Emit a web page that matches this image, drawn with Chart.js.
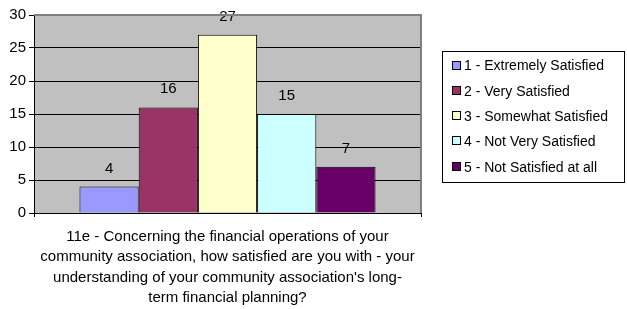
<!DOCTYPE html>
<html>
<head>
<meta charset="utf-8">
<script src="https://cdn.jsdelivr.net/npm/chart.js@4/dist/chart.umd.min.js"></script>
<style>
  html, body { margin: 0; padding: 0; background: #fff; }
  #wrap { width: 627px; height: 309px; }
</style>
</head>
<body>
<div id="wrap"><canvas id="chart" width="627" height="309"></canvas></div>
<script>
// values
var categories = [''];
var seriesLabels = [
    '1 - Extremely Satisfied',
    '2 - Very Satisfied',
    '3 - Somewhat Satisfied',
    '4 - Not Very Satisfied',
    '5 - Not Satisfied at all'
];
var seriesValues = [4, 16, 27, 15, 7];
var seriesColors = ['#9999FF', '#993366', '#FFFFCC', '#CCFFFF', '#660066'];
var yTicks = [0, 5, 10, 15, 20, 25, 30];
var axisTitle = [
    '11e - Concerning the financial operations of your',
    'community association, how satisfied are you with - your',
    "understanding of your community association's long-",
    'term financial planning?'
];

var FONT = 'Arial, "Liberation Sans", sans-serif';

// gray plot background + gray frame on top/right
var plotFrame = {
    id: 'plotFrame',
    beforeDraw: function(chart) {
        var a = chart.chartArea, ctx = chart.ctx;
        ctx.save();
        ctx.fillStyle = '#C0C0C0';
        ctx.fillRect(a.left, a.top, a.right - a.left, a.bottom - a.top);
        ctx.restore();
    },
    afterDraw: function(chart) {
        var a = chart.chartArea, ctx = chart.ctx;
        ctx.save();
        ctx.strokeStyle = '#808080';
        ctx.lineWidth = 2;
        ctx.beginPath();
        ctx.moveTo(a.left, a.top);
        ctx.lineTo(a.right, a.top);
        ctx.lineTo(a.right, a.bottom);
        ctx.stroke();
        ctx.restore();
    }
};

// value labels above bars
var valueLabels = {
    id: 'valueLabels',
    afterDatasetsDraw: function(chart) {
        var ctx = chart.ctx;
        ctx.save();
        ctx.font = '15px ' + FONT;
        ctx.fillStyle = '#000';
        ctx.textAlign = 'center';
        ctx.textBaseline = 'alphabetic';
        chart.data.datasets.forEach(function(ds, i) {
            var bar = chart.getDatasetMeta(i).data[0];
            ctx.fillText(String(ds.data[0]), bar.x, bar.y - 14);
        });
        ctx.restore();
    }
};

// boxed legend on the right
var boxLegend = {
    id: 'boxLegend',
    afterDraw: function(chart) {
        var ctx = chart.ctx;
        ctx.save();
        ctx.strokeStyle = '#000';
        ctx.lineWidth = 1;
        ctx.strokeRect(442.5, 51.5, 182, 131);
        ctx.font = '14px ' + FONT;
        ctx.textBaseline = 'middle';
        chart.data.datasets.forEach(function(ds, i) {
            var cy = 65.5 + i * 25.3;
            ctx.fillStyle = ds.backgroundColor;
            ctx.fillRect(452.5, Math.round(cy) - 4.5, 8, 8);
            ctx.strokeRect(452.5, Math.round(cy) - 4.5, 8, 8);
            ctx.fillStyle = '#000';
            ctx.fillText(ds.label, 464, cy + 1);
        });
        ctx.restore();
    }
};

var datasets = seriesLabels.map(function(label, i) {
    return {
        label: label,
        data: [seriesValues[i]],
        backgroundColor: seriesColors[i],
        borderColor: '#000',
        borderWidth: 1,
        barPercentage: 1,
        categoryPercentage: 0.765
    };
});

new Chart(document.getElementById('chart'), {
    type: 'bar',
    data: { labels: categories, datasets: datasets },
    options: {
        responsive: false,
        animation: false,
        layout: { padding: { top: 15, right: 206, left: 0, bottom: 0 } },
        plugins: { legend: { display: false }, tooltip: { enabled: false } },
        scales: {
            x: {
                afterFit: function(s) { s.height = 96; },
                grid: { offset: true, drawOnChartArea: false, color: '#000', tickLength: 4 },
                border: { color: '#000', width: 1 },
                ticks: { display: false },
                title: {
                    display: true,
                    text: axisTitle,
                    color: '#000',
                    font: { family: FONT, size: 15, lineHeight: 1.353 },
                    padding: { top: 0, bottom: 1 }
                }
            },
            y: {
                min: 0,
                max: 30,
                afterFit: function(s) { s.width = 34; },
                afterBuildTicks: function(s) { s.ticks = yTicks.map(function(v) { return { value: v }; }); },
                grid: { color: '#000', tickLength: 5 },
                border: { color: '#000', width: 1 },
                ticks: { color: '#000', padding: 3, font: { family: FONT, size: 15 } }
            }
        }
    },
    plugins: [plotFrame, valueLabels, boxLegend]
});
</script>
</body>
</html>
